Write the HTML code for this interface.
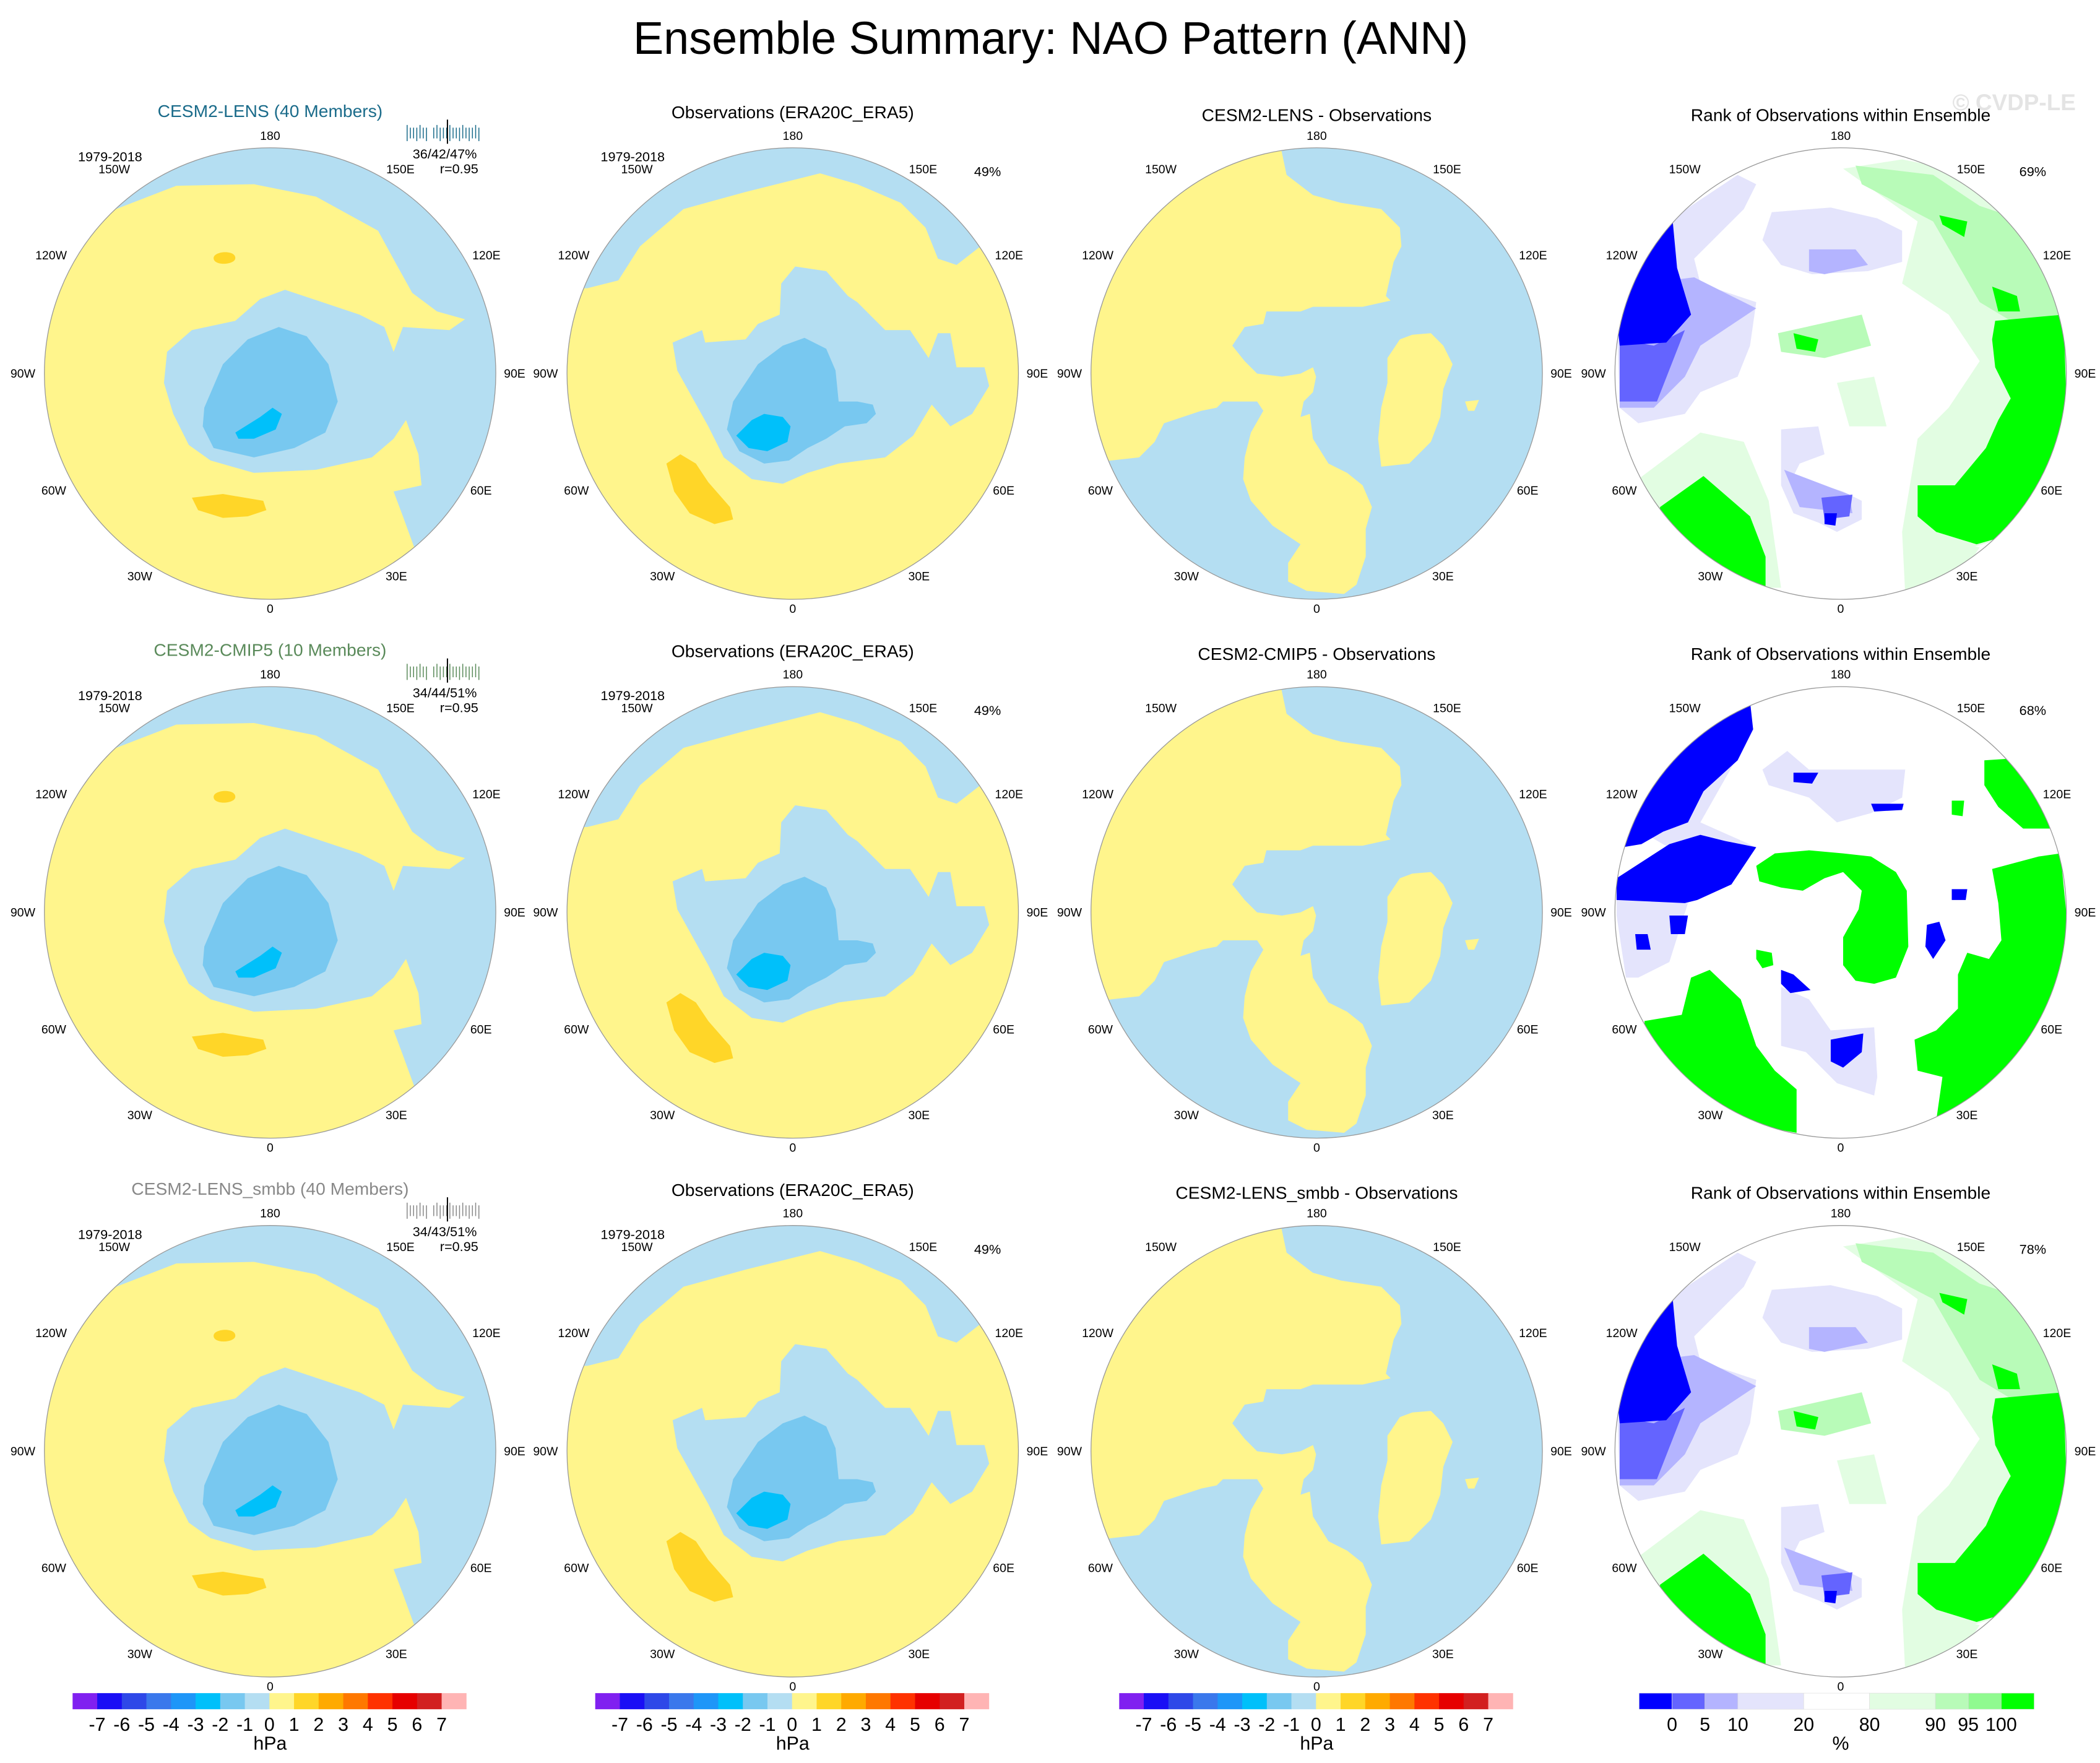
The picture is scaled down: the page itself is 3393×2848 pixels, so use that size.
<!DOCTYPE html>
<html><head><meta charset="utf-8"><style>
html,body{margin:0;padding:0;background:#fff;}
svg{display:block;font-family:"Liberation Sans",sans-serif;}
</style></head><body>
<svg id="fig" width="3393" height="2848" viewBox="0 0 1563 1312" xmlns="http://www.w3.org/2000/svg">
<text x="782" y="40" font-size="34" text-anchor="middle">Ensemble Summary: NAO Pattern (ANN)</text>
<text x="1545" y="82" font-size="17" text-anchor="end" fill="#e4e4e4" font-weight="bold">© CVDP-LE</text>
<g id="panels"></g>
<g id="bars"></g>
</svg>
<script>
const NS="http://www.w3.org/2000/svg";
const hpaLevels=[-7,-6,-5,-4,-3,-2,-1,0,1,2,3,4,5,6,7];
const hpaColors=["#8020f0","#1a0ff5","#2e48e8","#3a78ec","#1e96f8","#00c0fa","#78c8f0","#b4def2","#fff58c","#ffd628","#ffaa00","#ff7800","#ff3200","#e60000","#d22020","#ffb4b4"];
const rankLabels=["0","5","10","20","80","90","95","100"];
const rankColors=["#0000ff","#6464ff","#b4b4ff","#e4e4fc","#ffffff","#e2fde2","#b8fbb8","#90fa90","#00ff00"];
const rankEdges=[0,1,2,3,5,7,9,10,11,12];
const colX=[201,590,980,1370], rowY=[278,679,1080], R=168;
const rowTitles=[["CESM2-LENS (40 Members)","#1a6b8a","36/42/47%","#1a6b8a"],["CESM2-CMIP5 (10 Members)","#5a8a5a","34/44/51%","#5a8a5a"],["CESM2-LENS_smbb (40 Members)","#888888","34/43/51%","#888888"]];
const diffTitles=["CESM2-LENS - Observations","CESM2-CMIP5 - Observations","CESM2-LENS_smbb - Observations"];
const rankPct=["69%","68%","78%"];
const lonLabels=[["180",0,-174],["150E",97,-149],["120E",161,-85],["90E",182,3],["60E",157,90],["30E",94,154],["0",0,178],["30W",-97,154],["60W",-161,90],["90W",-184,3],["120W",-163,-85],["150W",-116,-149]];
const P=document.getElementById('panels');
function el(tag,attrs,parent){const e=document.createElementNS(NS,tag);for(const k in attrs)e.setAttribute(k,attrs[k]);(parent||P).appendChild(e);return e;}
function txt(s,x,y,size,attrs,parent){const t=el('text',Object.assign({x:x,y:y,'font-size':size},attrs||{}),parent);t.textContent=s;return t;}
const Z="scale(0.231) translate(-752,-790)";
const shapes={
 model:{bg:"#b4def2",z:[
   ["#fff58c","M230,270 L450,185 L700,180 L900,220 L1100,330 L1160,440 L1210,530 L1290,590 L1380,615 L1330,650 L1180,640 L1150,720 L1120,640 L1040,600 L920,560 L800,520 L720,550 L640,620 L500,650 L420,720 L410,820 L440,920 L490,1020 L560,1070 L700,1110 L900,1100 L1080,1060 L1150,1000 L1190,940 L1230,1050 L1240,1150 L1150,1170 L1180,1250 L1220,1360 L1000,1700 L-100,1700 L-100,200 Z"],
   ["#78c8f0","M540,900 L600,760 L680,680 L780,640 L870,670 L940,760 L970,880 L930,980 L830,1030 L700,1060 L570,1030 L535,960 Z"],
   ["#00c0fa","M640,980 L720,930 L760,900 L790,920 L770,970 L700,1000 L650,1000 Z"],
   ["#ffd628","M500,1190 L600,1178 L730,1200 L740,1230 L680,1250 L600,1255 L520,1230 Z"],
   ["#ffd628","M570,418 C570,395 640,390 640,418 C640,440 570,445 570,418 Z"]]},
 obs:{bg:"#fff58c",z:[
   ["#b4def2","M-100,515 L90,515 L190,490 L260,380 L400,260 L600,205 L840,145 L960,180 L1100,240 L1180,320 L1220,420 L1280,440 L1370,370 L1600,370 L1600,-100 L-100,-100 Z"],
   ["#b4def2","M365,690 L460,650 L470,690 L600,680 L640,630 L710,600 L715,500 L760,445 L860,460 L930,540 L960,560 L1000,600 L1050,650 L1130,650 L1190,740 L1220,660 L1260,660 L1280,770 L1370,770 L1385,830 L1330,920 L1260,960 L1200,890 L1140,990 L1050,1060 L900,1080 L800,1110 L720,1145 L620,1130 L530,1060 L480,960 L430,870 L380,780 Z"],
   ["#78c8f0","M540,970 L560,880 L640,760 L720,700 L790,675 L860,710 L890,780 L900,880 L960,880 L1010,890 L1020,920 L990,950 L920,960 L860,1000 L800,1030 L740,1070 L660,1080 L580,1040 Z"],
   ["#00c0fa","M570,990 L620,940 L660,920 L720,930 L745,960 L735,1010 L670,1040 L610,1030 Z"],
   ["#ffd628","M345,1080 L390,1050 L440,1080 L480,1140 L550,1220 L560,1260 L500,1275 L420,1240 L370,1170 Z"]]},
 diff:{bg:"#b4def2",z:[
   ["#fff58c","M635,-100 L635,55 L655,150 L740,215 L830,240 L960,260 L1020,320 L1025,380 L1000,430 L975,540 L990,555 L900,575 L740,575 L700,590 L590,590 L580,630 L520,640 L480,700 L520,750 L560,790 L640,800 L700,790 L740,770 L750,800 L740,850 L710,880 L700,930 L730,920 L740,1000 L790,1080 L850,1110 L900,1150 L930,1220 L910,1290 L910,1380 L880,1470 L840,1500 L720,1490 L660,1460 L660,1400 L700,1340 L610,1280 L540,1200 L515,1130 L520,1060 L540,980 L580,910 L560,880 L450,880 L430,900 L380,910 L260,950 L230,1010 L180,1060 L90,1070 L-100,1100 L-100,-100 Z"],
   ["#fff58c","M980,740 L1020,680 L1060,665 L1120,660 L1160,700 L1190,760 L1160,840 L1150,930 L1120,1010 L1050,1080 L960,1090 L950,1000 L960,900 L980,820 Z"],
   ["#fff58c","M1230,880 L1275,875 L1260,910 L1240,910 Z"]]},
 rank:{bg:"#ffffff",z:[
   ["#e4e4fc","M270,250 L420,150 L480,180 L440,260 L280,420 L300,500 L480,560 L460,700 L420,800 L300,850 L250,920 L100,950 L40,900 L30,600 L200,300 Z"],
   ["#e4e4fc","M530,270 L720,255 L870,290 L950,330 L950,430 L840,460 L660,470 L560,440 L500,360 Z"],
   ["#b4b4ff","M650,390 L800,390 L840,440 L700,470 L650,460 Z"],
   ["#b4b4ff","M120,500 L280,480 L480,580 L300,700 L250,800 L150,900 L40,900 L40,560 Z"],
   ["#6464ff","M40,680 L150,700 L250,650 L160,880 L40,880 Z"],
   ["#0000ff","M60,560 L110,440 L210,290 L225,450 L270,600 L190,690 L40,700 L30,600 Z"],
   ["#e4e4fc","M560,970 L680,960 L700,1050 L620,1080 L600,1120 L760,1170 L820,1200 L820,1260 L740,1300 L680,1270 L600,1240 L560,1150 Z"],
   ["#b4b4ff","M570,1100 L780,1180 L790,1240 L620,1220 Z"],
   ["#6464ff","M690,1190 L790,1180 L780,1250 L700,1260 Z"],
   ["#0000ff","M700,1240 L740,1240 L735,1280 L700,1275 Z"],
   ["#e2fde2","M100,1130 L300,980 L440,1010 L520,1200 L560,1480 L420,1480 L150,1240 Z"],
   ["#00ff00","M170,1220 L310,1120 L460,1250 L510,1380 L510,1500 L380,1450 L170,1260 Z"],
   ["#e2fde2","M760,130 L950,100 L1200,150 L1350,250 L1450,450 L1480,700 L1480,1000 L1350,1300 L1000,1400 L950,1300 L1000,1000 L1100,900 L1200,750 L1100,600 L950,500 L1000,300 Z"],
   ["#b8fbb8","M800,120 L1050,150 L1200,250 L1350,300 L1420,450 L1460,600 L1300,620 L1200,560 L1050,300 L820,180 Z"],
   ["#00ff00","M1250,620 L1470,600 L1480,900 L1440,1100 L1330,1300 L1190,1340 L1060,1300 L1000,1250 L1000,1150 L1120,1150 L1220,1030 L1260,940 L1300,870 L1250,770 L1240,680 Z"],
   ["#00ff00","M1070,280 L1160,300 L1150,350 L1080,310 Z"],
   ["#00ff00","M1240,510 L1320,540 L1330,590 L1260,590 Z"],
   ["#b8fbb8","M550,660 L820,600 L850,700 L700,740 L560,720 Z"],
   ["#00ff00","M600,660 L680,680 L670,720 L610,710 Z"],
   ["#e2fde2","M740,820 L860,800 L900,960 L780,960 Z"],
   ["#e2fde2","M950,1300 L1200,1350 L1100,1500 L960,1500 Z"]]},
 rank2:{bg:"#ffffff",z:[
   ["#e4e4fc","M30,740 L260,760 L200,950 L100,1000 L60,1000 L30,800 Z"],
   ["#e4e4fc","M60,500 L200,260 L440,110 L470,200 L300,500 L480,580 L400,700 Z"],
   ["#e4e4fc","M500,330 L580,270 L650,330 L800,330 L960,330 L950,420 L850,470 L740,500 L650,420 L520,380 Z"],
   ["#e4e4fc","M560,1030 L650,1070 L720,1170 L860,1160 L870,1320 L860,1380 L740,1340 L700,1300 L640,1240 L560,1220 Z"],
   ["#0000ff","M50,580 L120,420 L240,240 L350,160 L460,110 L470,200 L420,300 L310,400 L260,500 L180,530 L110,570 Z"],
   ["#0000ff","M30,680 L200,570 L300,540 L380,560 L480,580 L400,700 L290,750 L250,760 L30,750 Z"],
   ["#0000ff","M200,800 L260,800 L250,860 L205,860 Z"],
   ["#0000ff","M90,860 L130,860 L140,910 L95,910 Z"],
   ["#0000ff","M600,340 L680,340 L660,375 L600,370 Z"],
   ["#0000ff","M850,440 L955,440 L950,460 L860,465 Z"],
   ["#0000ff","M1030,830 L1070,820 L1090,880 L1050,940 L1025,900 Z"],
   ["#0000ff","M1110,715 L1160,715 L1155,750 L1110,750 Z"],
   ["#0000ff","M560,975 L600,990 L655,1040 L590,1050 L560,1020 Z"],
   ["#0000ff","M720,1200 L825,1180 L820,1240 L760,1290 L720,1270 Z"],
   ["#00ff00","M480,640 L540,600 L650,590 L760,600 L850,610 L930,660 L965,720 L970,900 L930,1000 L860,1020 L800,1010 L760,960 L760,870 L810,780 L820,720 L760,660 L700,680 L630,720 L560,710 L490,690 Z"],
   ["#00ff00","M480,910 L530,920 L535,960 L500,970 L480,940 Z"],
   ["#00ff00","M120,1140 L240,1120 L270,1000 L330,975 L430,1070 L480,1220 L540,1300 L610,1360 L610,1500 L500,1480 L300,1400 L120,1160 Z"],
   ["#00ff00","M1240,650 L1390,610 L1460,600 L1480,800 L1460,1050 L1380,1200 L1260,1350 L1150,1430 L1060,1460 L1080,1320 L1000,1300 L990,1200 L1060,1170 L1130,1100 L1130,990 L1160,920 L1230,940 L1270,880 L1260,760 Z"],
   ["#00ff00","M1215,300 L1290,295 L1370,400 L1430,520 L1340,520 L1260,450 L1215,380 Z"],
   ["#00ff00","M1110,430 L1150,430 L1145,480 L1110,475 Z"]]}
};
function panel(r,c){
 const cx=colX[c], cy=rowY[r];
 const g=el('g',{transform:`translate(${cx},${cy})`});
 
 
 const cid=`clip${r}${c}`;
 const cp=el('clipPath',{id:cid},g); el('circle',{r:R},cp);
 let key=['model','obs','diff','rank'][c];
 if(c===3&&r===1) key='rank2';
 const s=shapes[key];
 const inner=el('g',{'clip-path':`url(#${cid})`},g);
 el('circle',{r:R,fill:s.bg},inner);
 const zg=el('g',{transform:Z},inner);
 s.z.forEach(([f,d])=>{el('path',{d:d,fill:f},zg);});
 el('circle',{r:R,fill:"none",stroke:"#999",'stroke-width':0.6},g);
 lonLabels.forEach(([s2,x,y])=>{const t=txt(s2,x,y,9,{'text-anchor':'middle'},g);});
 let title, col="#000";
 if(c===0){title=rowTitles[r][0];col=rowTitles[r][1];}
 else if(c===1){title="Observations (ERA20C_ERA5)";}
 else if(c===2){title=diffTitles[r];}
 else title="Rank of Observations within Ensemble";
 const t=txt(title,0,c===0?-191:(c===1?-190:-188),13,{'text-anchor':'middle',fill:col},g);
 
 
 if(c<2){const y=txt("1979-2018",-143,-158,10,{},g);}
 if(c===1){const p=txt("49%",135,-147,10,{},g);}
 if(c===3){const p=txt(rankPct[r],133,-147,10,{},g);}
 if(c===0){
  const hc=rowTitles[r][3];
  for(let i=0;i<22;i++){const x=102+i*2.4+(i>6?3:0);el('line',{x1:x,x2:x,y1:-183+(i%4===0?-2:0),y2:-175+(i%3===0?2:0),stroke:hc,'stroke-width':0.7},g);}
  el('line',{x1:132,x2:132,y1:-189,y2:-171,stroke:"#000",'stroke-width':0.9},g);
  const s3=txt(rowTitles[r][2],130,-160,10,{'text-anchor':'middle'},g);
  const rr=txt("r=0.95",155,-149,10,{'text-anchor':'end'},g);
 }
}
for(let r=0;r<3;r++)for(let c=0;c<4;c++)panel(r,c);
const B=document.getElementById('bars');
for(let c=0;c<3;c++){
 const x0=colX[c]-147, w=293/hpaColors.length;
 const g=el('g',{},B);
 
 
 hpaColors.forEach((col,i)=>{el('rect',{x:x0+i*w,y:1260,width:w+0.2,height:12,fill:col},g);});
 hpaLevels.forEach((v,i)=>{txt(String(v),x0+(i+1)*w,1288,14,{'text-anchor':'middle'},g);});
 txt("hPa",colX[c],1302,14,{'text-anchor':'middle'},g);
}
{
 const x0=1220, x1=1514, tot=rankEdges[rankEdges.length-1], u=(x1-x0)/tot;
 const g=el('g',{},B);
 
 
 rankColors.forEach((col,i)=>{el('rect',{x:x0+rankEdges[i]*u,y:1260,width:(rankEdges[i+1]-rankEdges[i])*u,height:12,fill:col,stroke:"#ddd",'stroke-width':0.3},g);});
 rankLabels.forEach((s,i)=>{txt(s,x0+rankEdges[i+1]*u,1288,14,{'text-anchor':'middle'},g);});
 txt("%",1370,1302,14,{'text-anchor':'middle'},g);
}
</script>
</body></html>
